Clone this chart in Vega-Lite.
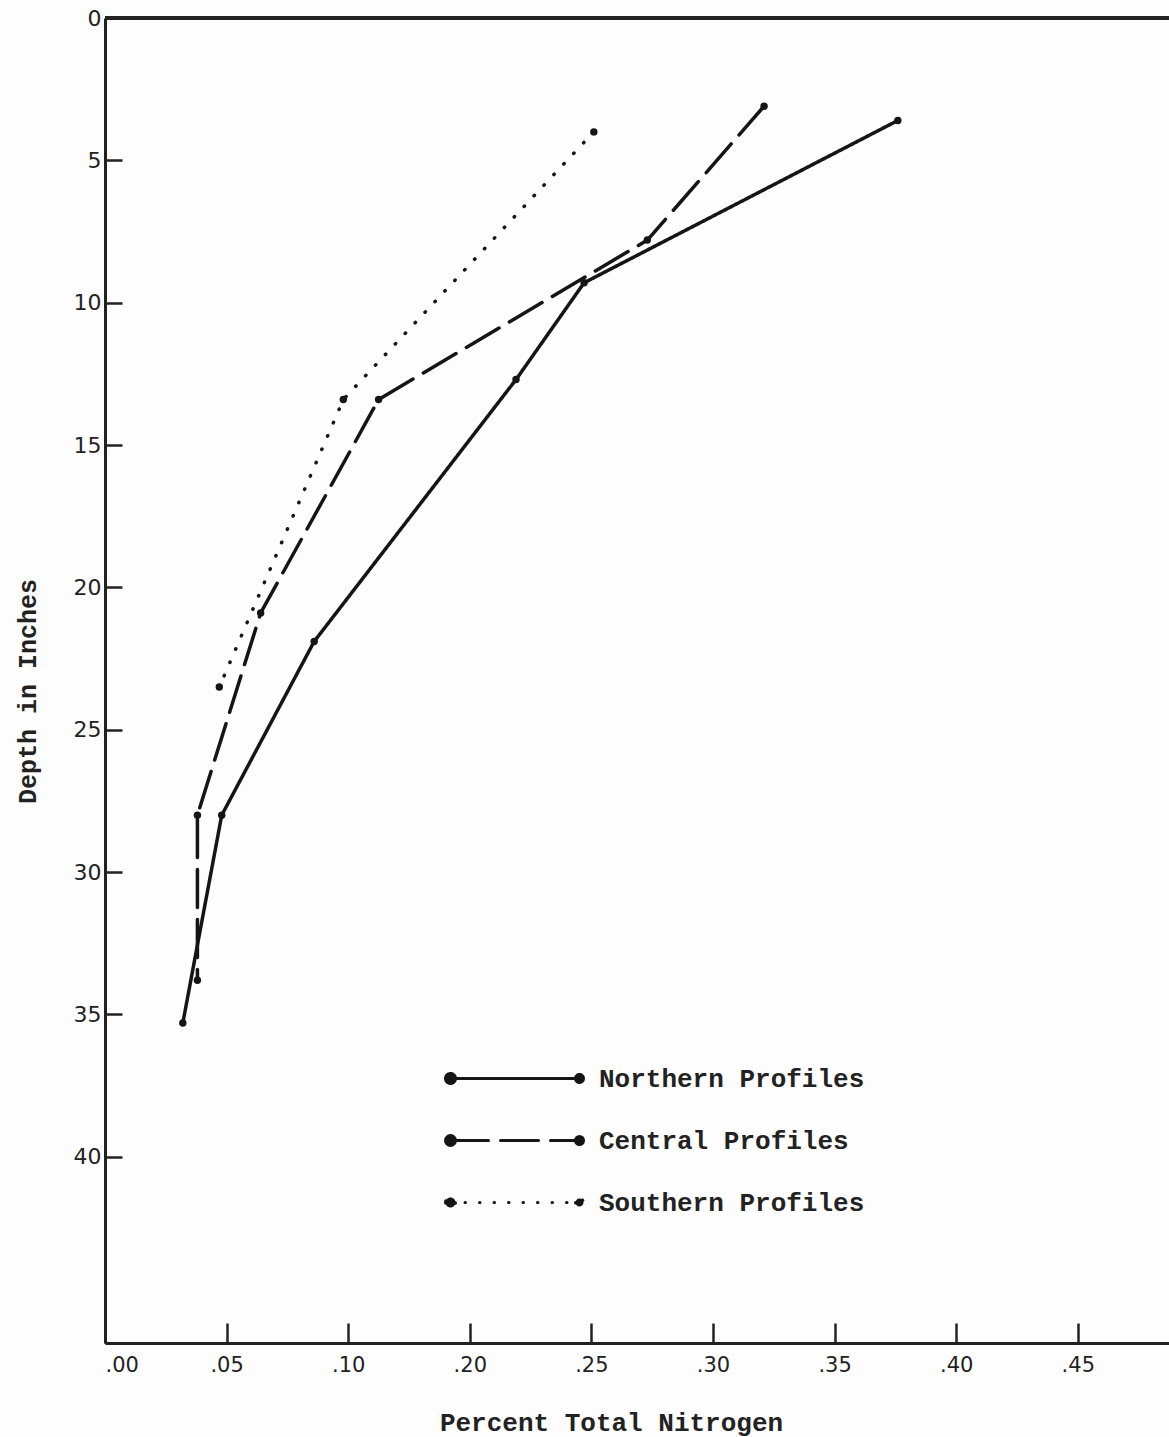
{
  "$schema": "https://vega.github.io/schema/vega-lite/v6.json",
  "width": 1064,
  "height": 1325,
  "autosize": {"type": "none"},
  "padding": {"left": 105, "top": 18, "right": 0, "bottom": 94},
  "background": "#fdfdfd",
  "config": {
    "view": {"stroke": null},
    "axis": {
      "grid": false,
      "domainColor": "#222",
      "domainWidth": 3,
      "tickColor": "#222",
      "tickWidth": 2.5,
      "labelColor": "#222",
      "labelFont": "DejaVu Sans",
      "titleColor": "#222",
      "titleFont": "Liberation Mono",
      "titleFontWeight": "bold"
    }
  },
  "data": {
    "values": [
      {"profile": "Northern Profiles", "nitrogen": 0.376, "depth": 3.6},
      {"profile": "Northern Profiles", "nitrogen": 0.247, "depth": 9.3},
      {"profile": "Northern Profiles", "nitrogen": 0.219, "depth": 12.7},
      {"profile": "Northern Profiles", "nitrogen": 0.086, "depth": 21.9},
      {"profile": "Northern Profiles", "nitrogen": 0.048, "depth": 28.0},
      {"profile": "Northern Profiles", "nitrogen": 0.032, "depth": 35.3},
      {"profile": "Central Profiles", "nitrogen": 0.321, "depth": 3.1},
      {"profile": "Central Profiles", "nitrogen": 0.273, "depth": 7.8},
      {"profile": "Central Profiles", "nitrogen": 0.125, "depth": 13.4},
      {"profile": "Central Profiles", "nitrogen": 0.064, "depth": 20.9},
      {"profile": "Central Profiles", "nitrogen": 0.038, "depth": 28.0},
      {"profile": "Central Profiles", "nitrogen": 0.038, "depth": 33.8},
      {"profile": "Southern Profiles", "nitrogen": 0.251, "depth": 4.0},
      {"profile": "Southern Profiles", "nitrogen": 0.098, "depth": 13.4},
      {"profile": "Southern Profiles", "nitrogen": 0.047, "depth": 23.5}
    ]
  },
  "encoding": {
    "x": {
      "field": "nitrogen",
      "type": "quantitative",
      "scale": {"domain": [0, 0.1, 0.2, 0.4875], "range": [0, 243.2, 364.8, 1064], "nice": false, "zero": false},
      "axis": {
        "values": [0, 0.05, 0.1, 0.2, 0.25, 0.3, 0.35, 0.4, 0.45],
        "labelExpr": "substring(format(datum.value, '.2f'), 1)",
        "labelFontSize": 21,
        "labelFlush": true,
        "tickSize": -20,
        "labelPadding": 31,
        "title": "Percent Total Nitrogen",
        "titleFontSize": 26,
        "titleX": 506,
        "titleY": 79,
        "titleBaseline": "middle",
        "titleAlign": "center"
      }
    },
    "y": {
      "field": "depth",
      "type": "quantitative",
      "scale": {"domain": [0, 46.54], "reverse": true, "nice": false, "zero": false},
      "axis": {
        "values": [0, 5, 10, 15, 20, 25, 30, 35, 40],
        "format": "d",
        "labelFontSize": 22,
        "tickSize": -17,
        "labelPadding": 21,
        "title": "Depth in Inches",
        "titleFontSize": 25,
        "titleX": -78,
        "titleY": 673,
        "titleBaseline": "middle",
        "titleAlign": "center",
        "titleAngle": -90
      }
    }
  },
  "layer": [
    {
      "mark": {"type": "line", "stroke": "#151515", "strokeWidth": 3.5, "strokeCap": "round"},
      "encoding": {
        "order": {"field": "depth", "type": "quantitative"},
        "strokeDash": {
          "field": "profile",
          "type": "nominal",
          "scale": {
            "domain": ["Northern Profiles", "Central Profiles", "Southern Profiles"],
            "range": [[1, 0], [38, 12], [0.5, 14]]
          },
          "legend": {
            "title": null,
            "orient": "none",
            "legendX": 389,
            "legendY": 1039,
            "padding": 0,
            "offset": 0,
            "symbolType": "M-3.25,0H3.25M-3.5,0A0.25,0.25,0,1,0,-3.0,0A0.25,0.25,0,1,0,-3.5,0M3.0,0A0.2,0.2,0,1,0,3.4,0A0.2,0.2,0,1,0,3.0,0",
            "symbolSize": 1600,
            "symbolStrokeWidth": 3,
            "symbolStrokeColor": "#151515",
            "symbolFillColor": "#151515",
            "labelOffset": 62,
            "rowPadding": 27,
            "labelFont": "Liberation Mono",
            "labelFontWeight": "bold",
            "labelFontSize": 26,
            "labelColor": "#222",
            "labelLimit": 0,
            "encode": {
              "symbols": {
                "update": {
                  "fill": {"value": "#151515"},
                  "stroke": {"value": "#151515"},
                  "strokeCap": {"value": "round"}
                }
              }
            }
          }
        }
      }
    },
    {
      "mark": {"type": "circle", "color": "#151515", "size": 55, "opacity": 1},
      "encoding": {}
    },
    {
      "mark": {"type": "rule", "stroke": "#222", "strokeWidth": 3},
      "encoding": {
        "y": {"datum": 0, "type": "quantitative"},
        "x": null
      }
    }
  ]
}
